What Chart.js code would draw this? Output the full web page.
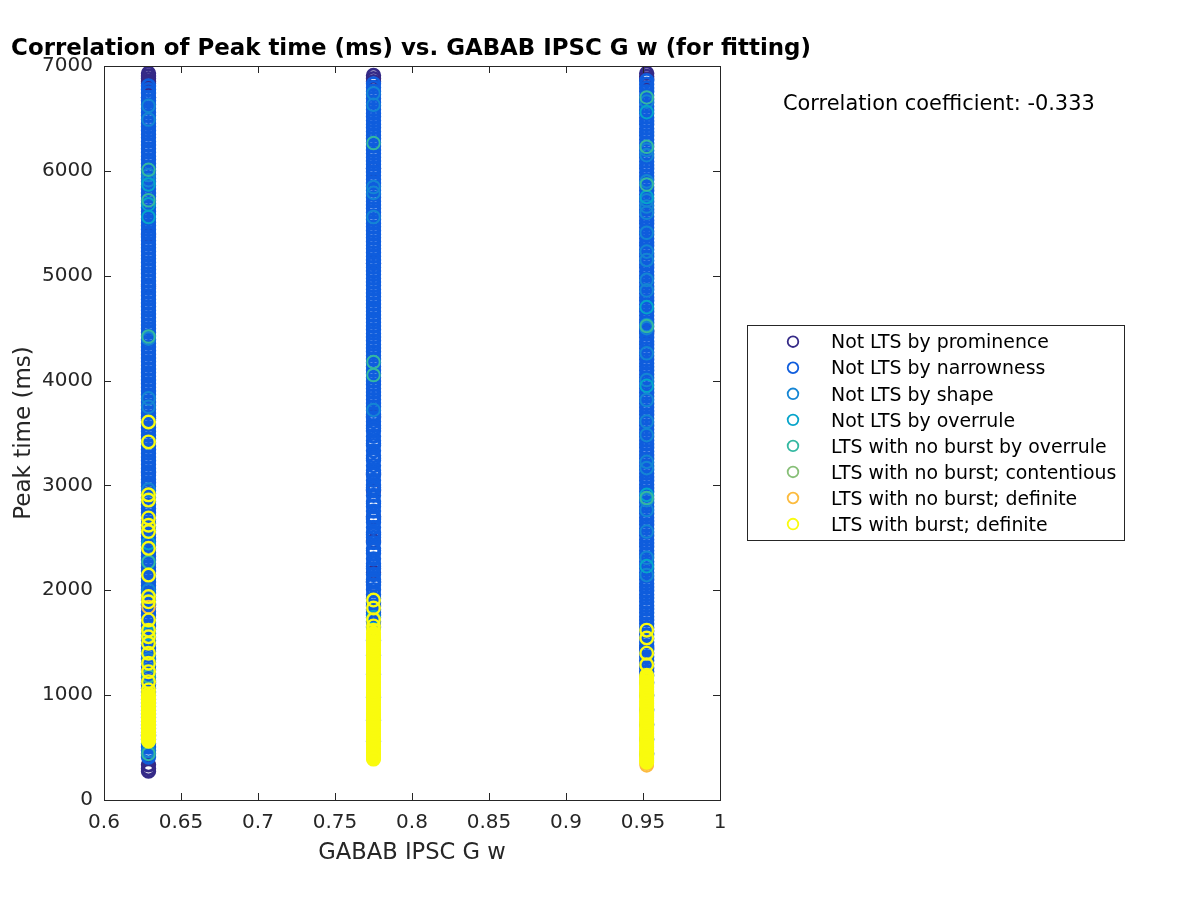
<!DOCTYPE html>
<html>
<head>
<meta charset="utf-8">
<script src="https://cdn.jsdelivr.net/npm/chart.js@4.4.1/dist/chart.umd.min.js"></script>
<style>
  html, body { margin: 0; padding: 0; background: #fff; }
  canvas { display: block; }
</style>
</head>
<body>
<canvas id="corrChart" width="1200" height="900"></canvas>
<script>
// x positions of the three GABAB IPSC G w values
const columnX = [0.6289, 0.775, 0.9524];

const seriesLabels = [
    'Not LTS by prominence',
    'Not LTS by narrowness',
    'Not LTS by shape',
    'Not LTS by overrule',
    'LTS with no burst by overrule',
    'LTS with no burst; contentious',
    'LTS with no burst; definite',
    'LTS with burst; definite'
];
const seriesColors = [
    'rgb(53,42,135)', 'rgb(15,93,221)', 'rgb(20,133,212)', 'rgb(6,164,202)',
    'rgb(51,184,161)', 'rgb(135,191,119)', 'rgb(252,187,62)', 'rgb(249,251,14)'
];

// peak times (ms), one list per column: [x=0.629, x=0.775, x=0.952]
const prominenceY = [
    [6930, 6905, 6880, 6855, 6835, 6700, 5390, 4900, 3640, 3120, 1860, 1120, 620, 335, 300, 275],
    [6910, 6880, 6850, 6020, 5120, 3660, 3110, 2950, 2700, 2470, 2170, 2080],
    [6930, 6900, 6875, 4470, 1450]
];
const narrownessY = [
    [6810, 6775, 6742, 6700, 6668, 6631, 6597, 6560, 6528, 6490, 6455, 6421, 6384, 6350, 6318, 6281, 6246, 6210, 6177, 6140,
     6106, 6071, 6035, 6002, 5966, 5930, 5897, 5860, 5826, 5790, 5757, 5720, 5686, 5650, 5615, 5581, 5545, 5510, 5477, 5440,
     5406, 5370, 5336, 5300, 5266, 5230, 5195, 5161, 5125, 5090, 5057, 5020, 4986, 4950, 4915, 4881, 4845, 4810, 4776, 4740,
     4705, 4671, 4635, 4600, 4566, 4530, 4495, 4461, 4425, 4390, 4356, 4320, 4285, 4251, 4215, 4180, 4146, 4110, 4075, 4041,
     4005, 3970, 3936, 3900, 3865, 3831, 3795, 3760, 3726, 3690, 3655, 3621, 3585, 3550, 3516, 3480, 3445, 3411, 3375, 3340,
     3306, 3270, 3235, 3201, 3165, 3130, 3096, 3060, 3025, 2991, 2955, 2920, 2886, 2850, 2815, 2781, 2745, 2710, 2676, 2640,
     2605, 2571, 2535, 2500, 2466, 2430, 2395, 2361, 2325, 2290, 2256, 2220, 2185, 2151, 2115, 2080, 2046, 2010, 1975, 1941,
     1905, 1870, 1836, 1800, 1765, 1731, 1695, 1660, 1626, 1590, 1555, 1521, 1485, 1450, 1416, 1380, 1345, 1311, 1275, 1240,
     1206, 1170, 1135, 1101, 1065, 1030, 996, 960, 925, 891, 855, 820, 786, 750, 715, 681, 645, 610, 576, 540,
     505, 471, 440, 410],
    [6830, 6796, 6760, 6727, 6690, 6655, 6622, 6585, 6550, 6516, 6480, 6445, 6412, 6375, 6340, 6306, 6270, 6236, 6200, 6166,
     6130, 6095, 6062, 6025, 5990, 5956, 5920, 5885, 5850, 5816, 5780, 5745, 5711, 5675, 5640, 5606, 5570, 5535, 5500, 5466,
     5430, 5395, 5361, 5325, 5290, 5256, 5220, 5185, 5150, 5116, 5080, 5045, 5011, 4975, 4940, 4906, 4870, 4835, 4800, 4766,
     4730, 4695, 4661, 4625, 4590, 4556, 4520, 4485, 4450, 4416, 4380, 4345, 4311, 4275, 4240, 4206, 4170, 4135, 4100, 4066,
     4030, 3995, 3961, 3925, 3890, 3856, 3820, 3785, 3750, 3716, 3680, 3645, 3610, 3570, 3545, 3520, 3470, 3425, 3400, 3380,
     3330, 3285, 3260, 3240, 3190, 3145, 3120, 3100, 3050, 3005, 2980, 2960, 2905, 2850, 2830, 2800, 2755, 2705, 2680, 2650,
     2600, 2550, 2530, 2505, 2455, 2400, 2380, 2350, 2300, 2255, 2230, 2205, 2150, 2100, 2080, 2050, 2005, 1960, 1920, 1880,
     1850, 1815, 1790, 1765, 1740, 1700, 1650, 1520, 1380, 1200, 980, 760, 560],
    [6860, 6826, 6790, 6756, 6720, 6685, 6651, 6615, 6580, 6546, 6510, 6475, 6441, 6405, 6370, 6336, 6300, 6265, 6231, 6195,
     6160, 6126, 6090, 6055, 6021, 5985, 5950, 5916, 5880, 5845, 5811, 5775, 5740, 5706, 5670, 5635, 5601, 5565, 5530, 5496,
     5460, 5425, 5391, 5355, 5320, 5286, 5250, 5215, 5181, 5145, 5110, 5076, 5040, 5005, 4971, 4935, 4900, 4866, 4830, 4795,
     4761, 4725, 4690, 4656, 4620, 4585, 4551, 4515, 4480, 4446, 4410, 4375, 4341, 4305, 4270, 4236, 4200, 4165, 4131, 4095,
     4060, 4026, 3990, 3955, 3921, 3885, 3850, 3816, 3780, 3745, 3711, 3675, 3640, 3606, 3570, 3535, 3501, 3465, 3430, 3396,
     3360, 3325, 3291, 3255, 3220, 3186, 3150, 3115, 3081, 3045, 3010, 2976, 2940, 2905, 2871, 2835, 2800, 2766, 2730, 2695,
     2661, 2625, 2590, 2556, 2520, 2485, 2451, 2415, 2380, 2346, 2310, 2275, 2241, 2205, 2170, 2136, 2100, 2065, 2031, 1995,
     1960, 1926, 1890, 1855, 1821, 1785, 1750, 1716, 1680, 1645, 1611, 1575, 1540, 1506, 1470, 1435, 1401, 1365, 1330, 1296,
     1260, 1225, 1190, 1120, 1000, 860, 720, 580, 440]
];
const shapeY = [
    [6620, 6490, 5960, 5910, 4400, 3830, 3750, 2960, 2000, 1340, 860, 700, 470],
    [6740, 6630, 5846, 5790, 5560, 3720],
    [6660, 6200, 6150, 5900, 5720, 5660, 5600, 5410, 5230, 5150, 4960, 4860, 4530, 4500, 4260, 4005, 3815, 3610, 3480,
     3225, 3165, 2860, 2765, 2560, 2310, 2145]
];
const overruleY = [
    [5870, 5680, 5560, 2450, 1590, 560],
    [1745],
    [6560, 5750, 4700, 3950, 2910, 2230]
];
const noBurstOverruleY = [
    [6010, 5720, 4420, 2270, 1180, 440],
    [6265, 4177, 4053],
    [6700, 6230, 5870, 4520, 2880]
];
const contentiousY = [
    [],
    [],
    []
];
const noBurstDefiniteY = [
    [1840],
    [],
    [345, 330]
];
const burstY = [
    [3605, 3415, 2910, 2860, 2690, 2620, 2560, 2400, 2145, 1940, 1890, 1717, 1620, 1557, 1495, 1400, 1305, 1224, 1128, 1050,
     1010, 990, 975, 962, 950, 935, 920, 908, 895, 878, 860, 845, 830, 815, 800, 785, 770, 758, 745, 730,
     715, 702, 690, 675, 660, 650, 640, 625, 610, 595, 580, 570, 560],
    [1907, 1831, 1720, 1660, 1620, 1590, 1575, 1560, 1545, 1530, 1515, 1500, 1486, 1472, 1456, 1440, 1425, 1410, 1395, 1380,
     1366, 1352, 1336, 1320, 1305, 1290, 1276, 1262, 1246, 1230, 1215, 1200, 1185, 1170, 1156, 1142, 1126, 1110, 1095, 1080,
     1065, 1050, 1036, 1022, 1006, 990, 975, 960, 946, 932, 916, 900, 885, 870, 855, 840, 826, 812, 796, 780,
     765, 750, 736, 722, 706, 690, 675, 660, 646, 632, 616, 600, 585, 570, 556, 542, 526, 510, 496, 482,
     468, 455, 442, 430, 418, 405, 397, 390],
    [1620, 1545, 1400, 1290, 1190, 1175, 1160, 1145, 1130, 1115, 1100, 1086, 1072, 1056, 1040, 1025, 1010, 996, 982, 966,
     950, 935, 920, 906, 892, 876, 860, 845, 830, 816, 802, 786, 770, 755, 740, 726, 712, 696, 680, 665,
     650, 636, 622, 606, 590, 575, 560, 546, 532, 516, 500, 485, 470, 456, 442, 426, 410, 396, 382, 371, 360]
];

const seriesY = [prominenceY, narrownessY, shapeY, overruleY, noBurstOverruleY, contentiousY, noBurstDefiniteY, burstY];
// ring thickness per series (the dense ones read as solid bars)
const seriesBorder = [2.8, 2.8, 2, 2, 2, 2, 2, 2.4];

const titleText = 'Correlation of Peak time (ms) vs. GABAB IPSC G w (for fitting)';
const xLabel = 'GABAB IPSC G w';
const yLabel = 'Peak time (ms)';
const corrText = 'Correlation coefficient: -0.333';

const FONT = '"DejaVu Sans", sans-serif';
const AXIS_COLOR = '#262626';

// axes box, inward ticks, titles and legend drawn MATLAB-style
const matlabFrame = {
    id: 'matlabFrame',
    afterDatasetsDraw(chart) {
        const { ctx, chartArea: a, scales: { x, y } } = chart;
        ctx.save();
        ctx.strokeStyle = AXIS_COLOR;
        ctx.lineWidth = 1;
        ctx.strokeRect(a.left + 0.5, a.top + 0.5, a.right - a.left, a.bottom - a.top);
        ctx.beginPath();
        x.ticks.forEach(t => {
            const px = Math.round(x.getPixelForValue(t.value)) + 0.5;
            ctx.moveTo(px, a.bottom); ctx.lineTo(px, a.bottom - 7);
            ctx.moveTo(px, a.top); ctx.lineTo(px, a.top + 7);
        });
        y.ticks.forEach(t => {
            const py = Math.round(y.getPixelForValue(t.value)) + 0.5;
            ctx.moveTo(a.left, py); ctx.lineTo(a.left + 7, py);
            ctx.moveTo(a.right, py); ctx.lineTo(a.right - 7, py);
        });
        ctx.stroke();
        ctx.restore();
    },
    afterDraw(chart) {
        const { ctx, chartArea: a } = chart;
        const midX = (a.left + a.right) / 2;
        ctx.save();
        ctx.fillStyle = '#000';
        ctx.textBaseline = 'alphabetic';

        // title
        ctx.font = 'bold 22.9px ' + FONT;
        ctx.textAlign = 'center';
        ctx.fillText(titleText, midX - 1, 55);

        // axis labels
        ctx.fillStyle = AXIS_COLOR;
        ctx.font = '22.6px ' + FONT;
        ctx.fillText(xLabel, midX, 859);
        ctx.save();
        ctx.font = '23px ' + FONT;
        ctx.translate(30, (a.top + a.bottom) / 2);
        ctx.rotate(-Math.PI / 2);
        ctx.fillText(yLabel, 0, 0);
        ctx.restore();

        // correlation coefficient
        ctx.fillStyle = '#000';
        ctx.font = '20.9px ' + FONT;
        ctx.textAlign = 'left';
        ctx.fillText(corrText, 783, 110);

        // legend
        ctx.fillStyle = '#fff';
        ctx.fillRect(747.5, 325.5, 377, 215);
        ctx.strokeStyle = AXIS_COLOR;
        ctx.lineWidth = 1;
        ctx.strokeRect(747.5, 325.5, 377, 215);
        ctx.font = '18.9px ' + FONT;
        seriesLabels.forEach((label, i) => {
            const cy = 341.7 + i * 26.05;
            ctx.beginPath();
            ctx.arc(793, cy, 5.3, 0, Math.PI * 2);
            ctx.strokeStyle = seriesColors[i];
            ctx.lineWidth = 1.8;
            ctx.stroke();
            ctx.fillStyle = '#000';
            ctx.fillText(label, 831, cy + 6.7);
        });
        ctx.restore();
    }
};

const datasets = seriesY.map((cols, i) => ({
    label: seriesLabels[i],
    data: cols.flatMap((ys, c) => ys.map(v => ({ x: columnX[c], y: v }))),
    borderColor: seriesColors[i],
    backgroundColor: 'rgba(0,0,0,0)',
    pointRadius: 6.3,
    pointHoverRadius: 6.3,
    pointBorderWidth: seriesBorder[i],
    order: seriesY.length - i
}));

new Chart(document.getElementById('corrChart'), {
    type: 'scatter',
    data: { datasets: datasets },
    options: {
        responsive: false,
        animation: false,
        devicePixelRatio: 1,
        layout: { padding: { left: 0, top: 66, right: 480, bottom: 0 } },
        plugins: {
            legend: { display: false },
            tooltip: { enabled: false }
        },
        scales: {
            x: {
                type: 'linear',
                min: 0.6,
                max: 1,
                grid: { display: false, drawTicks: false },
                border: { display: false },
                ticks: {
                    stepSize: 0.05,
                    padding: 11,
                    color: AXIS_COLOR,
                    font: { family: FONT, size: 20 },
                    callback: v => String(+v.toFixed(2))
                },
                afterFit(scale) { scale.height = 100; }
            },
            y: {
                min: 0,
                max: 7000,
                grid: { display: false, drawTicks: false },
                border: { display: false },
                ticks: {
                    stepSize: 1000,
                    padding: 11,
                    color: AXIS_COLOR,
                    font: { family: FONT, size: 20 },
                    callback: v => String(v)
                },
                afterFit(scale) { scale.width = 104; }
            }
        }
    },
    plugins: [matlabFrame]
});
</script>
</body>
</html>
